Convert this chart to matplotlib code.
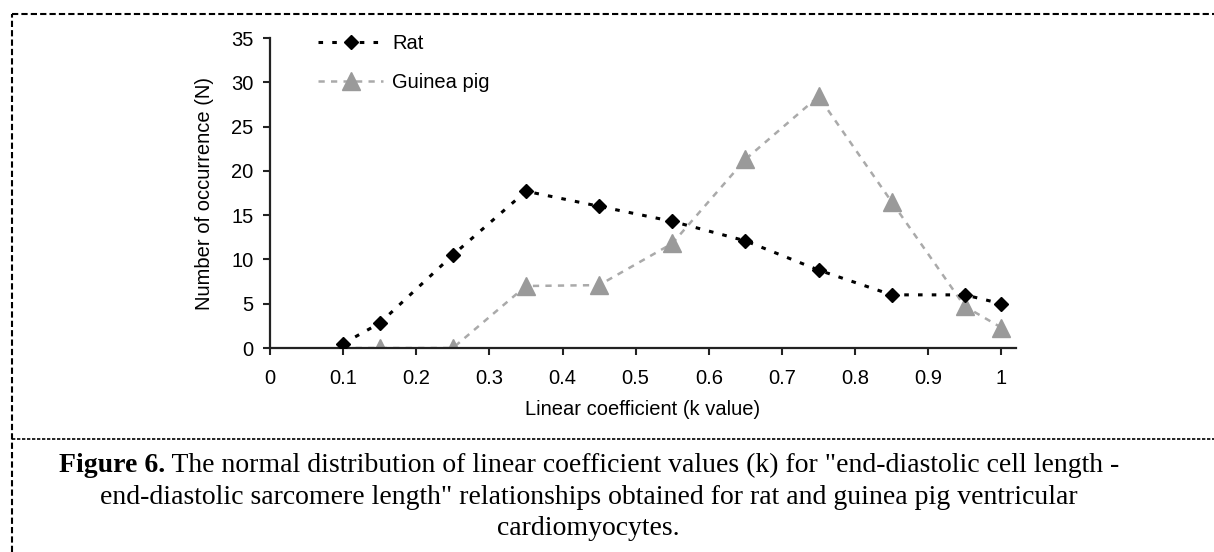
import matplotlib.pyplot as plt
from matplotlib.lines import Line2D

# data
k_values = [0.1, 0.15, 0.25, 0.35, 0.45, 0.55, 0.65, 0.75, 0.85, 0.95, 1.0]
rat = [0.5, 2.8, 10.5, 17.7, 16.0, 14.3, 12.1, 8.8, 6.0, 6.0, 5.0]
guinea_pig = [0.0, 0.0, 0.0, 7.0, 7.1, 11.8, 21.3, 28.4, 16.5, 4.7, 2.3]
x_ticks = [0, 0.1, 0.2, 0.3, 0.4, 0.5, 0.6, 0.7, 0.8, 0.9, 1]
x_tick_labels = ["0", "0.1", "0.2", "0.3", "0.4", "0.5", "0.6", "0.7", "0.8", "0.9", "1"]
y_ticks = [0, 5, 10, 15, 20, 25, 30, 35]
caption_bold = "Figure 6."
caption_lines = [' The normal distribution of linear coefficient values (k) for "end-diastolic cell length -',
                 'end-diastolic sarcomere length" relationships obtained for rat and guinea pig ventricular',
                 'cardiomyocytes.']

plt.rcParams['font.family'] = ['Liberation Sans', 'DejaVu Sans']

W, H = 1214, 552
fig = plt.figure(figsize=(W / 100, H / 100), dpi=100)
ax = fig.add_axes([270 / W, 1 - 348 / H, 746 / W, 310 / H])

ax.plot(k_values, guinea_pig, linestyle=(0, (2.5, 2.5)), color='#aaaaaa', linewidth=1.8,
        marker='^', markersize=12.5, markerfacecolor='#9a9a9a', markeredgecolor='#9a9a9a',
        label='Guinea pig', zorder=2)
ax.plot(k_values, rat, linestyle=(0, (1.5, 3)), color='black', linewidth=2.2,
        marker='D', markersize=7.5, markerfacecolor='black', markeredgecolor='black',
        label='Rat', zorder=3)

ax.set_xlim(0, 1.02)
ax.set_ylim(0, 35)
ax.set_xticks(x_ticks)
ax.set_xticklabels(x_tick_labels)
ax.set_yticks(y_ticks)
ax.tick_params(axis='both', labelsize=14.5, width=1.5, length=5, direction='out', color='#222222')
ax.tick_params(axis='x', pad=10)
ax.tick_params(axis='y', pad=7)
for s in ['top', 'right']:
    ax.spines[s].set_visible(False)
for s in ['left', 'bottom']:
    ax.spines[s].set_linewidth(1.6)
    ax.spines[s].set_color('#222222')
ax.set_xlabel('Linear coefficient (k value)', fontsize=14.5, labelpad=9)
ax.set_ylabel('Number of occurrence (N)', fontsize=14.5, labelpad=12)

handles, labels = ax.get_legend_handles_labels()
ax.legend(handles[::-1], labels[::-1], loc='upper left', bbox_to_anchor=(0.040, 1.07),
          frameon=False, fontsize=14.5, handlelength=3.25, labelspacing=0.95, handletextpad=0.45)

# dashed frame around the chart and the caption
dash = (0, (3, 1.5))
fig.add_artist(Line2D([12 / W, 1], [1 - 14 / H, 1 - 14 / H], color='black', linewidth=1.5, linestyle=dash))
fig.add_artist(Line2D([12 / W, 12 / W], [0, 1 - 14 / H], color='black', linewidth=1.5, linestyle=dash))
fig.add_artist(Line2D([12 / W, 1], [1 - 439 / H, 1 - 439 / H], color='black', linewidth=1.2,
                      linestyle=(0, (2, 1))))

# caption, first line is bold label + regular text, centred together
cap_font = ['Liberation Serif', 'DejaVu Serif']
cx = 0.485
t_bold = fig.text(0, 1 - 472 / H, caption_bold, fontsize=20, family=cap_font,
                  fontweight='bold', va='baseline', ha='left')
t_rest = fig.text(0, 1 - 472 / H, caption_lines[0], fontsize=20, family=cap_font,
                  va='baseline', ha='left')
fig.canvas.draw()
r = fig.canvas.get_renderer()
wb = t_bold.get_window_extent(r).width / W
wr = t_rest.get_window_extent(r).width / W
x0 = cx - (wb + wr) / 2
t_bold.set_x(x0)
t_rest.set_x(x0 + wb)
fig.text(cx, 1 - 504 / H, caption_lines[1], fontsize=20, family=cap_font, va='baseline', ha='center')
fig.text(cx, 1 - 535 / H, caption_lines[2], fontsize=20, family=cap_font, va='baseline', ha='center')

fig.savefig('out.png', dpi=100)
